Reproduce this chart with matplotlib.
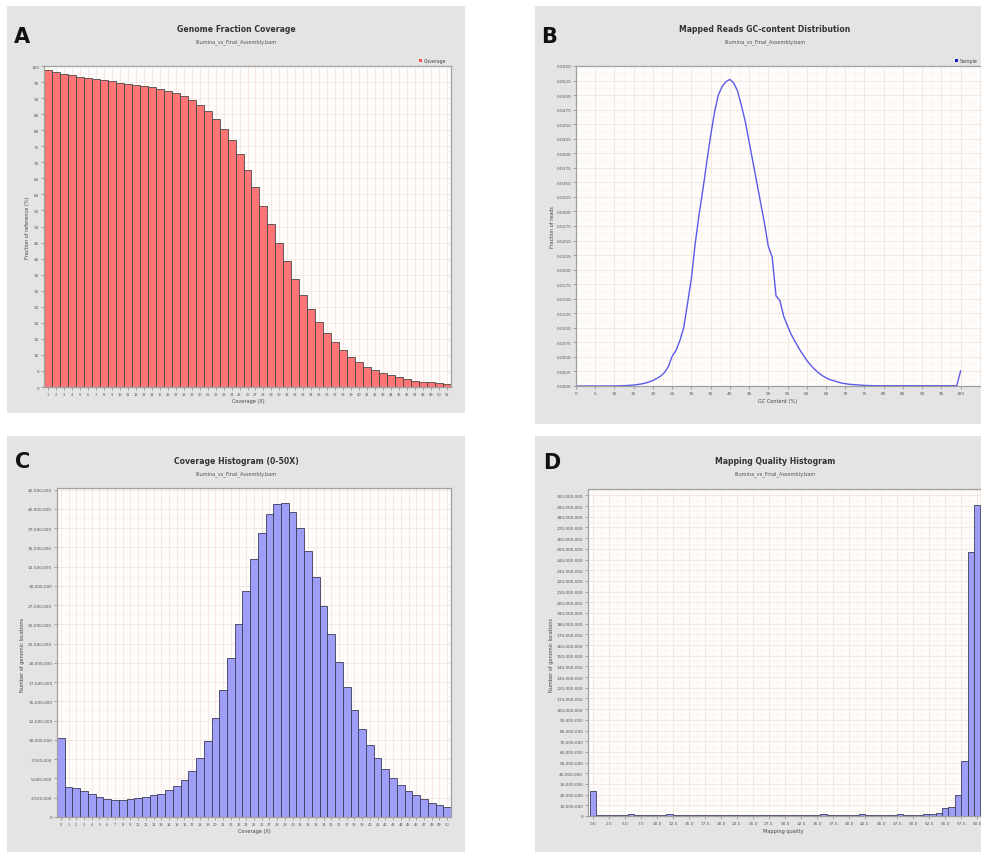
import numpy as np
import matplotlib
matplotlib.use("Agg")
import matplotlib.pyplot as plt
from matplotlib.patches import Rectangle
from matplotlib.ticker import MultipleLocator, FuncFormatter, FixedLocator

W, H = 981, 854

# ---- data ----
# A: genome fraction coverage (%), coverage 1..51 X
cov_x = list(range(1, 52))
cov_frac = [98.7, 98.1, 97.6, 97.2, 96.6, 96.2, 95.9, 95.6, 95.2, 94.8,
            94.5, 94.2, 93.9, 93.5, 92.7, 92.2, 91.6, 90.5, 89.5, 88.0,
            86.0, 83.6, 80.5, 76.9, 72.5, 67.6, 62.3, 56.5, 50.7, 44.8,
            39.2, 33.8, 28.6, 24.3, 20.1, 16.8, 13.9, 11.4, 9.2, 7.7,
            6.2, 5.2, 4.4, 3.6, 3.0, 2.5, 2.0, 1.7, 1.5, 1.1, 1.0]

# B: GC content distribution, GC 0..100 %
gc_pct = list(range(0, 101))
gc_frac = [0.0, 0.0, 0.0, 0.0, 0.0, 0.0, 0.0, 0.0, 0.0, 0.00001,
           0.00002, 0.00003, 0.00005, 0.00008, 0.00012, 0.00017, 0.00025, 0.00035, 0.0005, 0.0007,
           0.00095, 0.0013, 0.0017, 0.0023, 0.0033, 0.0051, 0.0061, 0.0078, 0.0100, 0.0142,
           0.0185, 0.0245, 0.0295, 0.0338, 0.0385, 0.0430, 0.0470, 0.0500, 0.0515, 0.0523,
           0.0527, 0.0521, 0.0507, 0.0482, 0.0455, 0.0420, 0.0385, 0.0350, 0.0315, 0.0280,
           0.0240, 0.0222, 0.0155, 0.0147, 0.0120, 0.0103, 0.0088, 0.0076, 0.0064, 0.0054,
           0.0044, 0.0036, 0.0029, 0.0023, 0.0018, 0.0014, 0.0011, 0.0009, 0.0007, 0.0005,
           0.0004, 0.0003, 0.00025, 0.0002, 0.00015, 0.0001, 0.00008, 0.00006, 0.00005, 0.00005,
           0.00005, 0.00005, 0.00005, 0.00005, 0.00005, 0.00005, 0.00005, 0.00005, 0.00005, 0.00005,
           0.00005, 0.00005, 0.00005, 0.00005, 0.00005, 0.00005, 0.00005, 0.00005, 0.00005, 0.00005,
           0.0026]

# C: coverage histogram 0..50 X (number of genomic locations)
hist_x = list(range(0, 51))
hist_n = [10.22, 3.90, 3.73, 3.42, 2.99, 2.60, 2.38, 2.21, 2.21, 2.34,
          2.47, 2.60, 2.82, 2.99, 3.51, 3.99, 4.85, 5.98, 7.67, 9.92,
          12.83, 16.48, 20.6, 25.0, 29.4, 33.5, 36.9, 39.3, 40.7, 40.8,
          39.6, 37.5, 34.5, 31.1, 27.4, 23.7, 20.1, 16.9, 13.95, 11.44,
          9.32, 7.67, 6.24, 5.07, 4.16, 3.42, 2.82, 2.34, 1.86, 1.52, 1.34]
hist_n = [v * 1e6 for v in hist_n]

# D: mapping quality histogram 0..60
mq_x = list(range(0, 61))
mq_n = [23.7, 1.2, 1.2, 1.2, 1.0, 0.5, 2.2, 0.6, 0.5, 0.5,
        0.5, 0.5, 1.9, 0.5, 0.5, 0.5, 0.5, 0.5, 0.5, 0.5,
        0.5, 0.5, 0.5, 0.5, 0.5, 0.5, 0.5, 0.5, 0.5, 0.5,
        0.5, 0.5, 0.5, 0.5, 0.5, 0.5, 1.8, 0.5, 0.5, 0.5,
        0.5, 0.5, 1.5, 0.5, 0.5, 0.5, 0.5, 0.5, 1.8, 1.2,
        1.2, 1.3, 1.5, 1.9, 2.6, 7.5, 8.4, 19.4, 51.3, 247.4, 291.0]
mq_n = [v * 1e6 for v in mq_n]

subtitle = "Illumina_vs_Final_Assembly.bam"
PANEL_BG = "#e4e4e4"
PLOT_BG = "#fffdfb"
GRID_MAJ = "#f3e5dc"
GRID_MIN = "#faf2ec"

fig = plt.figure(figsize=(W / 100, H / 100), dpi=100)
fig.patch.set_facecolor("white")


def fx(x):
    return x / W


def fy(y):
    return 1 - y / H


def panel_bg(x0, y0, x1, y1):
    fig.patches.append(Rectangle((fx(x0), fy(y1)), fx(x1 - x0), (y1 - y0) / H,
                                 transform=fig.transFigure, facecolor=PANEL_BG,
                                 edgecolor="none", zorder=-10))


def make_axes(x0, y0, x1, y1):
    ax = fig.add_axes([fx(x0), fy(y1), fx(x1 - x0), (y1 - y0) / H])
    ax.set_facecolor(PLOT_BG)
    for s in ax.spines.values():
        s.set_color("#a0a0a0")
        s.set_linewidth(0.9)
    ax.tick_params(which="major", length=2, width=0.5, color="#888888",
                   labelsize=3.1, labelcolor="#555555", pad=1.5)
    ax.tick_params(which="minor", length=0)
    ax.grid(True, which="major", color=GRID_MAJ, linewidth=0.6)
    ax.grid(True, which="minor", color=GRID_MIN, linewidth=0.5)
    ax.set_axisbelow(True)
    return ax


def headers(cx, letter, lx, ly, title, ty):
    fig.text(fx(lx), fy(ly), letter, fontsize=15, fontweight="bold", ha="center",
             va="center", color="#111111")
    fig.text(fx(cx), fy(ty), title, fontsize=5.6, fontweight="bold", ha="center",
             va="center", color="#333333")
    fig.text(fx(cx), fy(ty + 13), subtitle, fontsize=3.6, ha="center", va="center",
             color="#555555")


def ylabel(x, y, s):
    fig.text(fx(x), fy(y), s, rotation=90, fontsize=3.6, ha="center", va="center",
             color="#444444")


def xlabel(x, y, s):
    fig.text(fx(x), fy(y), s, fontsize=3.6, ha="center", va="center", color="#444444")


comma = FuncFormatter(lambda v, p: f"{int(round(v)):,}")

# ---------------- A ----------------
panel_bg(7, 7, 465, 414)
headers(236, "A", 22, 37, "Genome Fraction Coverage", 29)
axA = make_axes(44, 67, 451, 388)
axA.bar(cov_x, cov_frac, width=1.0, color="#ff7474", edgecolor="#4a4a4a", linewidth=0.6)
axA.set_xlim(0.5, 51.5)
axA.set_ylim(0, 100)
axA.set_xticks(cov_x)
axA.yaxis.set_major_locator(MultipleLocator(5))
axA.yaxis.set_minor_locator(MultipleLocator(2.5))
axA.tick_params(axis="x", labelsize=2.6)
ylabel(28, 228, "Fraction of reference (%)")
xlabel(248, 402, "Coverage (X)")
fig.patches.append(Rectangle((fx(419), fy(63)), fx(3), 3 / H, transform=fig.transFigure,
                             facecolor="#ff5050", edgecolor="none"))
fig.text(fx(424), fy(61), "Coverage", fontsize=3.4, va="center", color="#444444")

# ---------------- B ----------------
panel_bg(535, 7, 981, 425)
headers(765, "B", 549, 37, "Mapped Reads GC-content Distribution", 29)
axB = make_axes(576, 67, 981, 387)
axB.plot(gc_pct, gc_frac, color="#5a5ae8", linewidth=1.0)
axB.set_xlim(0, 105.3)
axB.set_ylim(0, 0.055)
axB.xaxis.set_major_locator(FixedLocator(np.arange(0, 101, 5)))
axB.xaxis.set_minor_locator(MultipleLocator(2.5))
axB.yaxis.set_major_locator(MultipleLocator(0.0025))
axB.yaxis.set_minor_locator(MultipleLocator(0.00125))
axB.yaxis.set_major_formatter(FuncFormatter(lambda v, p: f"{v:.4f}"))
axB.xaxis.set_major_formatter(FuncFormatter(lambda v, p: f"{v:.0f}"))
ylabel(552, 227, "Fraction of reads")
xlabel(778, 402, "GC Content (%)")
fig.patches.append(Rectangle((fx(955), fy(63)), fx(3), 3 / H, transform=fig.transFigure,
                             facecolor="#1a1ad0", edgecolor="none"))
fig.text(fx(960), fy(61), "Sample", fontsize=3.4, va="center", color="#444444")

# ---------------- C ----------------
panel_bg(7, 437, 465, 853)
headers(236, "C", 23, 462, "Coverage Histogram (0-50X)", 461)
axC = make_axes(57, 489, 451, 818)
axC.bar(hist_x, hist_n, width=1.0, color="#9e9ef6", edgecolor="#3c3c5a", linewidth=0.6)
axC.set_xlim(-0.5, 50.5)
axC.set_ylim(0, 42.72e6)
axC.set_xticks(hist_x)
axC.yaxis.set_major_locator(MultipleLocator(2.5e6))
axC.yaxis.set_minor_locator(MultipleLocator(1.25e6))
axC.yaxis.set_major_formatter(comma)
axC.tick_params(axis="x", labelsize=2.6)
ylabel(23, 655, "Number of genomic locations")
xlabel(254, 832, "Coverage (X)")

# ---------------- D ----------------
panel_bg(535, 437, 981, 853)
headers(775, "D", 552, 463, "Mapping Quality Histogram", 461)
axD = make_axes(588, 490, 981, 817)
axD.bar(mq_x, mq_n, width=1.0, color="#9e9ef6", edgecolor="#3c3c5a", linewidth=0.6)
axD.set_xlim(-0.75, 60.6)
axD.set_ylim(0, 306e6)
axD.xaxis.set_major_locator(MultipleLocator(2.5))
axD.xaxis.set_minor_locator(MultipleLocator(1.25))
axD.xaxis.set_major_formatter(FuncFormatter(lambda v, p: f"{v:.1f}"))
axD.yaxis.set_major_locator(MultipleLocator(10e6))
axD.yaxis.set_minor_locator(MultipleLocator(5e6))
axD.yaxis.set_major_formatter(comma)
ylabel(552, 655, "Number of genomic locations")
xlabel(783, 832, "Mapping quality")

fig.savefig("out.png", dpi=100, facecolor="white")
